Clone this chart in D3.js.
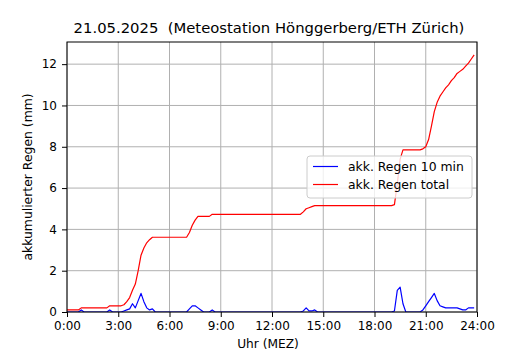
<!DOCTYPE html>
<html>
<head>
<meta charset="utf-8">
<script src="https://cdn.jsdelivr.net/npm/d3@7"></script>
<style>
body { margin: 0; background: #fff; }
text { font-family: "DejaVu Sans", sans-serif; fill: #000; }
</style>
</head>
<body>
<svg id="chart" width="530" height="350"></svg>
<script>
// --- data (10-min steps, 0:00 .. 23:50) ---
const chartTitle = "21.05.2025  (Meteostation Hönggerberg/ETH Zürich)";
const xLabel = "Uhr (MEZ)";
const yLabel = "akkumulierter Regen (mm)";
const seriesNames = ["akk. Regen 10 min", "akk. Regen total"];
const seriesColors = ["#0000ff", "#ff0000"];
const stepMin = 10;

const rain10min = [
  0, 0, 0, 0, 0, 0.1,
  0, 0, 0, 0, 0, 0,
  0, 0, 0, 0.1, 0, 0,
  0, 0, 0.05, 0.1, 0.15, 0.4,
  0.2, 0.55, 0.9, 0.5, 0.2, 0.1,
  0.15, 0, 0, 0, 0, 0,
  0, 0, 0, 0, 0, 0,
  0, 0.15, 0.3, 0.3, 0.2, 0.1,
  0, 0, 0, 0.1, 0, 0,
  0, 0, 0, 0, 0, 0,
  0, 0, 0, 0, 0, 0,
  0, 0, 0, 0, 0, 0,
  0, 0, 0, 0, 0, 0,
  0, 0, 0, 0, 0, 0.05,
  0.2, 0.05, 0.05, 0.1, 0, 0,
  0, 0, 0, 0, 0, 0,
  0, 0, 0, 0, 0, 0,
  0, 0, 0, 0, 0, 0,
  0, 0, 0, 0, 0, 0,
  0, 0.05, 1.05, 1.2, 0.4, 0,
  0, 0, 0, 0, 0, 0.1,
  0.3, 0.5, 0.7, 0.9, 0.55, 0.3,
  0.25, 0.2, 0.2, 0.2, 0.2, 0.2,
  0.15, 0.1, 0.1, 0.2, 0.2, 0.2
];

const rainTotal = [
  0.1, 0.1, 0.1, 0.1, 0.1, 0.2,
  0.2, 0.2, 0.2, 0.2, 0.2, 0.2,
  0.2, 0.2, 0.2, 0.3, 0.3, 0.3,
  0.3, 0.3, 0.35, 0.5, 0.7, 1.05,
  1.35, 2.0, 2.75, 3.1, 3.35, 3.5,
  3.62, 3.62, 3.62, 3.62, 3.62, 3.62,
  3.62, 3.62, 3.62, 3.62, 3.62, 3.62,
  3.62, 3.85, 4.2, 4.45, 4.63, 4.63,
  4.63, 4.63, 4.63, 4.73, 4.73, 4.73,
  4.73, 4.73, 4.73, 4.73, 4.73, 4.73,
  4.73, 4.73, 4.73, 4.73, 4.73, 4.73,
  4.73, 4.73, 4.73, 4.73, 4.73, 4.73,
  4.73, 4.73, 4.73, 4.73, 4.73, 4.73,
  4.73, 4.73, 4.73, 4.73, 4.73, 4.85,
  5.0, 5.05, 5.1, 5.15, 5.15, 5.15,
  5.15, 5.15, 5.15, 5.15, 5.15, 5.15,
  5.15, 5.15, 5.15, 5.15, 5.15, 5.15,
  5.15, 5.15, 5.15, 5.15, 5.15, 5.15,
  5.15, 5.15, 5.15, 5.15, 5.15, 5.15,
  5.15, 5.2, 6.2, 7.4, 7.85, 7.85,
  7.85, 7.85, 7.85, 7.85, 7.85, 7.9,
  8.0, 8.35, 9.0, 9.7, 10.15, 10.45,
  10.65, 10.85, 11.0, 11.2, 11.35, 11.55,
  11.65, 11.75, 11.9, 12.05, 12.25, 12.45
];

const xTickLabels = ["0:00", "3:00", "6:00", "9:00", "12:00", "15:00", "18:00", "21:00", "24:00"];
const xTickHours = [0, 3, 6, 9, 12, 15, 18, 21, 24];
const yTicks = [0, 2, 4, 6, 8, 10, 12];

// --- layout ---
const W = 530, H = 350;
const m = {left: 67, right: 53, top: 42, bottom: 38};
const iw = W - m.left - m.right, ih = H - m.top - m.bottom;

const svg = d3.select("#chart");
const g = svg.append("g").attr("transform", `translate(${m.left},${m.top})`);

const hours = d3.range(rainTotal.length).map(i => i * stepMin / 60);

const x = d3.scaleLinear().domain([0, 24]).range([0, iw]);
const y = d3.scaleLinear().domain([0, d3.max(rainTotal) * 1.05]).range([ih, 0]);

// grid
g.append("g").selectAll("line").data(xTickHours).join("line")
  .attr("x1", d => x(d)).attr("x2", d => x(d)).attr("y1", 0).attr("y2", ih)
  .attr("stroke", "#b0b0b0").attr("stroke-width", 1);
g.append("g").selectAll("line").data(yTicks).join("line")
  .attr("y1", d => y(d)).attr("y2", d => y(d)).attr("x1", 0).attr("x2", iw)
  .attr("stroke", "#b0b0b0").attr("stroke-width", 1);

// lines
svg.append("defs").append("clipPath").attr("id", "clip")
  .append("rect").attr("width", iw).attr("height", ih);

const line = d3.line().x((d, i) => x(hours[i])).y(d => y(d));
const plot = g.append("g").attr("clip-path", "url(#clip)");
[rain10min, rainTotal].forEach((s, k) => {
  plot.append("path").datum(s).attr("d", line)
    .attr("fill", "none").attr("stroke", seriesColors[k])
    .attr("stroke-width", 1.2).attr("stroke-linejoin", "round");
});

// axes
const xAxis = d3.axisBottom(x).tickValues(xTickHours)
  .tickFormat((d, i) => xTickLabels[i]).tickSize(5).tickPadding(4);
const yAxis = d3.axisLeft(y).tickValues(yTicks).tickSize(5).tickPadding(5);

const gx = g.append("g").attr("transform", `translate(0,${ih})`).call(xAxis);
const gy = g.append("g").call(yAxis);
[gx, gy].forEach(a => {
  a.select(".domain").remove();
  a.selectAll("line").attr("stroke", "#000");
  a.selectAll("text").attr("font-size", 12).attr("font-family", "DejaVu Sans").attr("fill", "#000");
});

// frame
g.append("rect").attr("width", iw).attr("height", ih)
  .attr("fill", "none").attr("stroke", "#000").attr("stroke-width", 1);

// title and labels
svg.append("text").attr("x", m.left + iw / 2 - 3).attr("y", 33)
  .attr("text-anchor", "middle").attr("font-size", 14.8)
  .style("white-space", "pre").text(chartTitle);
svg.append("text").attr("x", m.left + iw / 2 - 4).attr("y", 348)
  .attr("text-anchor", "middle").attr("font-size", 12.2).text(xLabel);
svg.append("text").attr("transform", `translate(32,${m.top + ih / 2}) rotate(-90)`)
  .attr("text-anchor", "middle").attr("font-size", 12.4).text(yLabel);

// legend
const lg = svg.append("g").attr("transform", "translate(307,156)");
lg.append("rect").attr("width", 165).attr("height", 42).attr("rx", 3)
  .attr("fill", "#fff").attr("fill-opacity", 0.8)
  .attr("stroke", "#cccccc").attr("stroke-width", 1);
seriesNames.forEach((name, k) => {
  const yy = 10.5 + k * 18;
  lg.append("line").attr("x1", 6).attr("x2", 31).attr("y1", yy).attr("y2", yy)
    .attr("stroke", seriesColors[k]).attr("stroke-width", 1.2);
  lg.append("text").attr("x", 41).attr("y", yy + 4.5).attr("font-size", 12.4).text(name);
});
</script>
</body>
</html>
